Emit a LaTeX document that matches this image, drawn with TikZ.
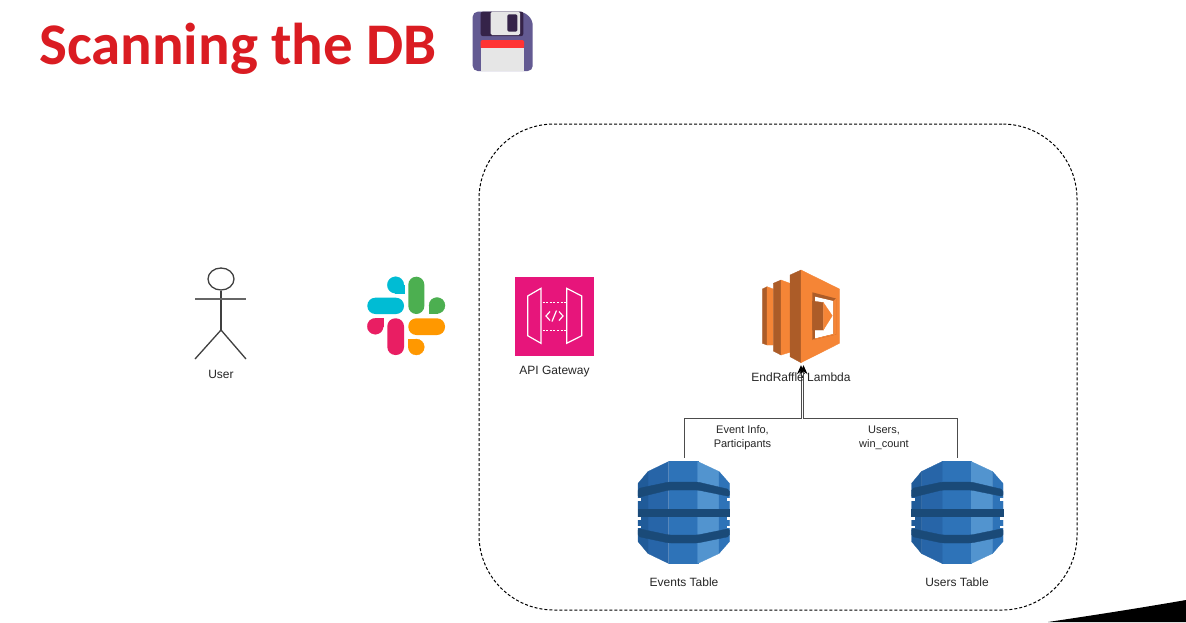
\documentclass[tikz,border=0pt]{standalone}
\usepackage{fontspec}
\setmainfont{Liberation Sans}
\newfontfamily\titlefont{Carlito}
\usetikzlibrary{arrows.meta,shapes.geometric}
\definecolor{titlered}{HTML}{DA1C22}
\definecolor{fpurple}{HTML}{635A92}
\definecolor{fdark}{HTML}{352349}
\definecolor{fred}{HTML}{FF3333}
\definecolor{fgrey}{HTML}{E6E6E6}
\definecolor{scyan}{HTML}{00BCD4}
\definecolor{sgreen}{HTML}{4CAF50}
\definecolor{spink}{HTML}{E91E63}
\definecolor{sorange}{HTML}{FF9800}
\definecolor{apigw}{HTML}{E7157B}
\definecolor{lmain}{HTML}{F58536}
\definecolor{ldark}{HTML}{AC5C28}
\definecolor{dbmid}{HTML}{2E73B8}
\definecolor{dbdark}{HTML}{2765A8}
\definecolor{dbedge}{HTML}{205B99}
\definecolor{dblight}{HTML}{5294CF}
\definecolor{dbband}{HTML}{1A4A78}
\tikzset{
  label text/.style={font=\fontsize{12}{14}\selectfont,text=black!85,inner sep=0pt,align=center},
  edge text/.style={font=\fontsize{11}{14}\selectfont,text=black!85,inner sep=0pt,align=center},
  slot/.style={minimum width=80,minimum height=80,inner sep=0pt},
  conn/.style={draw=black!70,line width=1pt,-{Stealth[length=9pt,width=8pt,color=black]}},
  stick/.style={draw=black!75,line width=1.3pt},
  gwline/.style={draw=white,line width=1.2pt},
  solid face/.style={fill=#1,draw=#1,line width=0.3pt},
}
\newcommand{\dbicon}[2]{%
  \begin{scope}[shift={(#1,#2)}]
    \path[solid face=dbmid] (-15.3,0) -- (13.7,0) -- (13.7,102) -- (-15.3,102) -- cycle;
    \path[solid face=dbdark] (-15.3,0) -- (-36,10) -- (-36,92) -- (-15.3,102) -- cycle;
    \path[solid face=dbedge] (-36,10) -- (-46,22) -- (-46,80) -- (-36,92) -- cycle;
    \path[solid face=dblight] (13.7,0) -- (35,10) -- (35,92) -- (13.7,102) -- cycle;
    \path[solid face=dbmid] (35,10) -- (45.5,22) -- (45.5,80) -- (35,92) -- cycle;
    \path[solid face=dbband,rounded corners=2pt] (-46,27) -- (-15.3,20.5) -- (13.7,20.5) -- (45.5,28) -- (45.5,35) -- (13.7,28.5) -- (-15.3,28.5) -- (-46,36) -- cycle;
    \path[solid face=dbband] (-46,48) -- (45.5,48) -- (45.5,54.5) -- (-46,54.5) -- cycle;
    \path[solid face=dbband,rounded corners=2pt] (-46,67) -- (-15.3,73.5) -- (13.7,73.5) -- (45.5,67) -- (45.5,75) -- (13.7,81.5) -- (-15.3,81.5) -- (-46,75) -- cycle;
    \fill[white] (-46.7,36.5) -- (-43,36.5) -- (-43,39) -- (-46.7,39) -- cycle;
    \fill[white] (-46.7,55.5) -- (-43,55.5) -- (-43,58) -- (-46.7,58) -- cycle;
    \fill[white] (-46.7,64) -- (-43,64) -- (-43,66.5) -- (-46.7,66.5) -- cycle;
    \fill[white] (42.5,36.5) -- (46.2,36.5) -- (46.2,39) -- (42.5,39) -- cycle;
    \fill[white] (42.5,55.5) -- (46.2,55.5) -- (46.2,58) -- (42.5,58) -- cycle;
    \fill[white] (42.5,64) -- (46.2,64) -- (46.2,66.5) -- (42.5,66.5) -- cycle;
  \end{scope}}
\begin{document}
\begin{tikzpicture}[x=1pt,y=-1pt]
\useasboundingbox (0,0) rectangle (1186,622);
\fill[white] (0,0) rectangle (1186,622);
% corner swoosh
\fill[black] (1048,622) .. controls (1095,615) and (1140,608) .. (1186,600) -- (1186,622) -- cycle;
% title
\node[anchor=base west,inner sep=0pt,font=\titlefont\bfseries\fontsize{59}{64}\selectfont,text=titlered] (title) at (39,64) {Scanning the DB};
% floppy
\fill[fpurple,rounded corners=5pt] (472.7,11.7) -- (524,11.7) -- (532.7,20) -- (532.7,71) -- (472.7,71) -- cycle;
\fill[fdark,rounded corners=2pt] (480.7,11.7) -- (523.3,11.7) -- (523.3,36) -- (480.7,36) -- cycle;
\fill[fgrey,rounded corners=1.5pt] (490.7,11.7) -- (520,11.7) -- (520,35) -- (490.7,35) -- cycle;
\fill[fdark,rounded corners=1.5pt] (507.3,14.3) rectangle (517.3,31.7);
\fill[fred,rounded corners=1.5pt] (480.7,48.5) -- (480.7,40) -- (524,40) -- (524,48.5) -- cycle;
\fill[fgrey] (480.7,48.3) rectangle (524,71);
% dashed boundary
\node[draw=black,dash pattern=on 3pt off 2pt,line width=1pt,rounded corners=75pt,minimum width=598,minimum height=486,inner sep=0pt] (boundary) at (778,367) {};
% user
\node[draw=black!75,line width=1.3pt,ellipse,minimum width=26,minimum height=22,inner sep=0pt] (head) at (221,279) {};
\coordinate (hip) at (221,330);
\coordinate (lhand) at (195,299);
\coordinate (rhand) at (246,299);
\coordinate (lfoot) at (195,359);
\coordinate (rfoot) at (246,359);
\draw[stick] (head.south) -- (hip);
\draw[stick,draw=black!60] (lhand) -- (rhand);
\draw[stick] (lfoot) -- (hip) -- (rfoot);
\node[label text] (userlabel) at (221,374) {User};
% slack
\path[solid face=scyan] (395.6,285) circle[radius=8.3];
\path[solid face=scyan] (395.6,285) rectangle (404,293.3);
\fill[scyan,rounded corners=8pt] (367.3,297.7) rectangle (404,314);
\fill[sgreen,rounded corners=8pt] (408.3,276.7) rectangle (424.3,314);
\path[solid face=sgreen] (437,305.5) circle[radius=8];
\path[solid face=sgreen] (429,305.5) rectangle (437,313.5);
\path[solid face=spink] (375.3,326.3) circle[radius=8];
\path[solid face=spink] (375.3,318.3) rectangle (383.3,326.3);
\fill[spink,rounded corners=8pt] (387.3,318.3) rectangle (404,355);
\fill[sorange,rounded corners=8pt] (408.3,318.3) rectangle (445,335);
\path[solid face=sorange] (416.3,347) circle[radius=8];
\path[solid face=sorange] (408.3,339) rectangle (416.3,347);
% api gateway
\node[fill=apigw,slot,minimum width=79,minimum height=79] (gateway) at (554.5,316.5) {};
\draw[gwline] (527.7,296) -- (541,288.3) -- (541,343.3) -- (527.7,335.7) -- cycle;
\draw[gwline] (566.7,288.3) -- (581.7,296) -- (581.7,335.7) -- (566.7,343.3) -- cycle;
\draw[gwline,dash pattern=on 2pt off 1.6pt] (542.5,302.3) -- (565.5,302.3);
\draw[gwline,dash pattern=on 2pt off 1.6pt] (542.5,330.7) -- (565.5,330.7);
\draw[gwline,line join=miter] (550,311.5) -- (546,316) -- (550,320.5);
\draw[gwline] (556.5,310.5) -- (552,321.5);
\draw[gwline,line join=miter] (559,311.5) -- (563,316) -- (559,320.5);
\node[label text,anchor=base] (gatewaylabel) at (554.5,374) {API Gateway};
% lambda
\node[inner sep=0pt,minimum width=78,minimum height=96] (lambda) at (801,317) {};
% slab 1
\path[solid face=ldark] (762.3,289) -- (767,286.7) -- (767,345) -- (762.3,343.3) -- cycle;
\path[solid face=lmain] (767,286.7) -- (773.3,289) -- (773.3,345) -- (767,345) -- cycle;
% slab 2
\path[solid face=ldark] (773.3,283.3) -- (781,280) -- (781,355) -- (773.3,351) -- cycle;
\path[solid face=lmain] (781,280) -- (790,283.3) -- (790,352.3) -- (781,355) -- cycle;
% main slab
\path[solid face=ldark] (790,275) -- (801,270) -- (801,362.7) -- (790,356.7) -- cycle;
\path[solid face=lmain] (801,270) -- (839.5,289) -- (839.5,343.3) -- (801,362.7) -- cycle;
% window
\fill[ldark] (812.3,292.3) -- (836,298.5) -- (836,334.5) -- (812.3,340) -- cycle;
\fill[white] (815,296.7) -- (833.3,301) -- (833.3,334) -- (815,338.5) -- cycle;
\fill[lmain] (836,298.5) -- (836,334.5) -- (833.3,334) -- (833.3,301) -- cycle;
\fill[lmain] (812.3,340) -- (836,334.5) -- (833.3,334) -- (815,338.5) -- cycle;
\path[solid face=ldark] (812.3,301) -- (823.3,302.5) -- (823.3,330) -- (812.3,330) -- cycle;
\path[solid face=lmain] (823.3,302.5) -- (832.3,315.7) -- (823.3,330) -- cycle;
% tables
\node[inner sep=0pt,minimum width=92,minimum height=108] (events) at (684,512) {};
\node[inner sep=0pt,minimum width=92,minimum height=108] (users) at (957.5,512) {};
\dbicon{684}{461.5}
\dbicon{957.5}{461.5}
% connectors
\coordinate (eventsbend) at (801,418);
\coordinate (usersbend) at (803.5,418);
\draw[conn] (events.north) |- (eventsbend) -- ([xshift=0pt]lambda.south);
\draw[conn] (users.north) |- (usersbend) -- ([xshift=2.5pt]lambda.south);
% labels
\node[label text,anchor=base] (lambdalabel) at (801,381) {EndRaffle Lambda};
\node[edge text] (eventinfo) at (742.5,438) {Event Info,\\Participants};
\node[edge text] (userswin) at (884,438) {Users,\\win\_count};
\node[label text,anchor=base] (eventslabel) at (684,586) {Events Table};
\node[label text,anchor=base] (userslabel) at (957,586) {Users Table};
\end{tikzpicture}
\end{document}
